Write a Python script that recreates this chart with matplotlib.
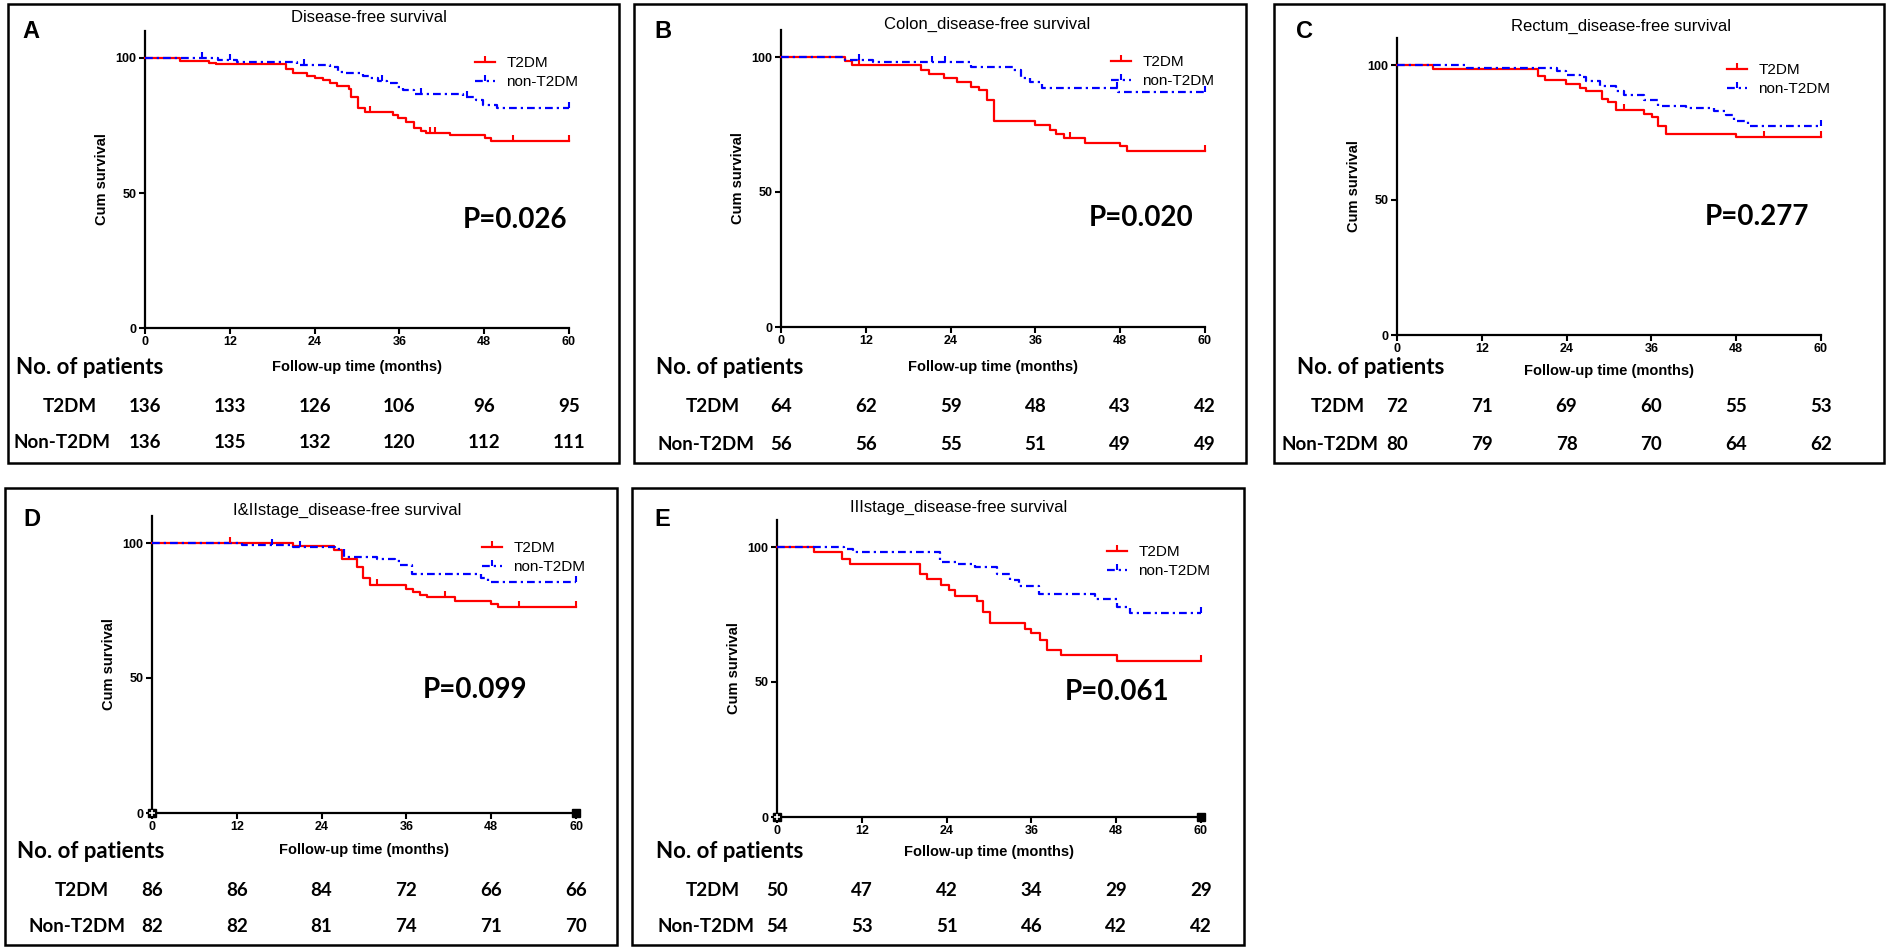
import matplotlib
matplotlib.use("Agg")
import matplotlib.pyplot as plt
import numpy as np
from matplotlib.lines import Line2D
from matplotlib.patches import Rectangle
from matplotlib.path import Path
from matplotlib.transforms import blended_transform_factory

ARIAL = ["Liberation Sans", "DejaVu Sans"]
CALIBRI = ["Lato", "DejaVu Sans"]
plt.rcParams["font.family"] = ARIAL

# ---------------- data ----------------
months = [0, 12, 24, 36, 48, 60]
group_labels = ["T2DM", "non-T2DM"]
table_labels = ["T2DM", "Non-T2DM"]

titles = ["Disease-free survival", "Colon_disease-free survival", "Rectum_disease-free survival",
          "I&IIstage_disease-free survival", "IIIstage_disease-free survival"]
letters = ["A", "B", "C", "D", "E"]
p_values = ["P=0.026", "P=0.020", "P=0.277", "P=0.099", "P=0.061"]

# Panel A
A_t2dm_t = [0, 5.0, 9.1, 10.0, 19.9, 21.0, 22.9, 24.0, 25.2, 26.2, 27.1, 28.9, 29.1, 30.1, 31.1, 35.1, 35.8, 37.0, 38.1, 39.0, 39.8, 43.1, 48.1, 49.0]
A_t2dm_s = [100, 99.0, 98.3, 97.8, 95.8, 94.3, 93.3, 92.5, 91.9, 90.9, 89.6, 88.5, 85.7, 81.4, 80.1, 78.9, 77.7, 76.4, 74.0, 73.1, 72.4, 71.5, 70.3, 69.4]
A_t2dm_c = [31.8, 40.4, 41.1, 52.1, 60]
A_non_t = [0, 10.4, 13.0, 21.5, 26.2, 27.3, 28.5, 30.9, 31.8, 33.0, 34.2, 35.6, 36.5, 38.0, 45.0, 46.9, 47.9, 49.8]
A_non_s = [100, 99.4, 98.6, 97.4, 96.8, 94.9, 94.3, 93.3, 92.5, 91.5, 90.6, 89.4, 88.1, 86.5, 85.7, 84.4, 82.6, 81.4]
A_non_c = [8.0, 12.0, 22.5, 33.5, 39.0, 45.5, 60]
A_n_t2dm = [136, 133, 126, 106, 96, 95]
A_n_non = [136, 135, 132, 120, 112, 111]

# Panel B
B_t2dm_t = [0, 9.0, 10.0, 19.8, 21.0, 23.0, 24.9, 26.9, 28.0, 29.1, 30.1, 35.9, 38.0, 38.9, 40.0, 43.0, 48.0, 49.0]
B_t2dm_s = [100, 98.6, 96.9, 95.3, 93.8, 92.2, 90.6, 88.9, 87.7, 84.2, 76.4, 74.7, 73.1, 71.6, 70.0, 68.1, 66.9, 65.1]
B_t2dm_c = [11.0, 40.9, 60]
B_non_t = [0, 9.0, 13.0, 26.9, 32.9, 34.0, 35.2, 36.9, 47.7]
B_non_s = [100, 99.0, 98.3, 96.3, 95.3, 92.2, 90.6, 88.6, 86.9]
B_non_c = [11.0, 21.3, 23.2, 47.5, 60]
B_n_t2dm = [64, 62, 59, 48, 43, 42]
B_n_non = [56, 56, 55, 51, 49, 49]

# Panel C
C_t2dm_t = [0, 5.1, 19.9, 21.0, 23.9, 25.9, 26.8, 29.0, 29.8, 31.0, 34.9, 36.1, 36.9, 38.0, 48.0]
C_t2dm_s = [100, 98.5, 95.8, 94.6, 93.1, 91.5, 90.2, 87.5, 86.2, 83.5, 82.0, 80.6, 77.5, 74.6, 73.3]
C_t2dm_c = [32.1, 52.0, 60]
C_non_t = [0, 9.9, 22.7, 23.9, 25.9, 26.7, 28.7, 31.0, 32.1, 34.9, 36.9, 40.9, 44.9, 46.6, 47.7, 49.7]
C_non_s = [100, 98.8, 97.7, 96.4, 95.6, 94.0, 92.3, 90.2, 89.0, 87.2, 84.9, 84.1, 82.8, 81.6, 79.1, 77.5]
C_non_c = [60]
C_n_t2dm = [72, 71, 69, 60, 55, 53]
C_n_non = [80, 79, 78, 70, 64, 62]

# Panel D
D_t2dm_t = [0, 20.0, 25.8, 26.9, 29.0, 29.8, 30.9, 36.0, 36.9, 37.9, 38.9, 42.9, 48.0, 49.0]
D_t2dm_s = [100, 98.8, 97.5, 94.2, 91.0, 86.9, 84.5, 83.0, 82.0, 80.7, 79.9, 78.6, 77.5, 76.3]
D_t2dm_c = [11.1, 31.8, 41.5, 51.9, 60]
D_non_t = [0, 12.7, 20.0, 25.9, 27.1, 31.8, 34.4, 35.1, 36.8, 46.5, 47.6]
D_non_s = [100, 99.2, 98.6, 97.9, 94.8, 94.2, 93.5, 91.7, 88.6, 87.1, 85.4]
D_non_c = [17.0, 21.0, 60]
D_n_t2dm = [86, 86, 84, 72, 66, 66]
D_n_non = [82, 82, 81, 74, 71, 70]

# Panel E
E_t2dm_t = [0, 5.2, 9.2, 10.3, 20.2, 21.2, 23.2, 24.3, 25.2, 28.3, 29.2, 30.2, 35.1, 36.0, 37.2, 38.2, 40.2, 48.1]
E_t2dm_s = [100, 98.1, 95.7, 93.8, 89.9, 88.0, 85.8, 84.0, 81.7, 80.0, 75.9, 71.9, 69.8, 68.0, 65.7, 61.7, 59.9, 57.7]
E_t2dm_c = [60]
E_non_t = [0, 9.5, 10.8, 23.1, 25.5, 28.0, 31.1, 33.0, 34.2, 37.1, 45.0, 48.1, 50.0]
E_non_s = [100, 99.1, 98.1, 94.4, 93.6, 92.6, 90.1, 87.6, 85.4, 82.7, 80.9, 77.8, 75.6]
E_non_c = [60]
E_n_t2dm = [50, 47, 42, 34, 29, 29]
E_n_non = [54, 53, 51, 46, 42, 42]

curves = [
    (A_t2dm_t, A_t2dm_s, A_t2dm_c, A_non_t, A_non_s, A_non_c, A_n_t2dm, A_n_non),
    (B_t2dm_t, B_t2dm_s, B_t2dm_c, B_non_t, B_non_s, B_non_c, B_n_t2dm, B_n_non),
    (C_t2dm_t, C_t2dm_s, C_t2dm_c, C_non_t, C_non_s, C_non_c, C_n_t2dm, C_n_non),
    (D_t2dm_t, D_t2dm_s, D_t2dm_c, D_non_t, D_non_s, D_non_c, D_n_t2dm, D_n_non),
    (E_t2dm_t, E_t2dm_s, E_t2dm_c, E_non_t, E_non_s, E_non_c, E_n_t2dm, E_n_non),
]

# ---------------- layout (pixels) ----------------
W, H = 1890, 951
AX_W, PX_PER_UNIT, Y_TOP = 424, 2.7, 110
layout = [
    dict(box=(8, 4, 619, 463), origin=(145, 328), title=(369, 18), letter=(31, 32),
         rows=(368, 407, 443), xlab=367, no_x=16, t2_cx=70, non_cx=62, p=(59.7, 40.0), marks=False),
    dict(box=(634, 4, 1246, 463), origin=(781, 327), title=(987, 24), letter=(663, 32),
         rows=(368, 407, 444), xlab=367, no_x=656, t2_cx=713, non_cx=706, p=(58.4, 40.5), marks=False),
    dict(box=(1274, 4, 1884, 463), origin=(1397, 335), title=(1621, 26), letter=(1305, 32),
         rows=(367, 407, 444), xlab=371, no_x=1297, t2_cx=1338, non_cx=1330, p=(58.4, 43.8), marks=False),
    dict(box=(5, 488, 617, 945), origin=(152, 813), title=(347, 510), letter=(32, 520),
         rows=(852, 890, 927), xlab=850, no_x=17, t2_cx=82, non_cx=77, p=(53.1, 45.6), marks=True),
    dict(box=(632, 488, 1244, 945), origin=(777, 817), title=(959, 507), letter=(662, 520),
         rows=(851, 890, 927), xlab=852, no_x=656, t2_cx=713, non_cx=706, p=(55.5, 46.2), marks=True),
]

RED, BLUE = "#ff0000", "#0000ff"
DASHDOT = (0, (3.5, 1.8, 1.0, 1.8))
tick_marker = Path([(0, 0), (0, 1)], [Path.MOVETO, Path.LINETO])

fig = plt.figure(figsize=(W / 100, H / 100), dpi=100)


def fx(x):
    return x / W


def fy(y):
    return 1 - y / H


def step_value(t, s, c):
    idx = np.searchsorted(np.asarray(t), c, side="right") - 1
    return np.asarray(s)[idx]


for i, L in enumerate(layout):
    l, t, r, b = L["box"]
    fig.patches.append(Rectangle((fx(l), fy(b)), fx(r - l), (b - t) / H, transform=fig.transFigure,
                                 fill=False, edgecolor="black", linewidth=1.8, zorder=0))
    x0, y0 = L["origin"]
    ax_h = Y_TOP * PX_PER_UNIT
    ax = fig.add_axes([fx(x0), fy(y0), AX_W / W, ax_h / H])
    ax.set_xlim(0, 60)
    ax.set_ylim(0, Y_TOP)
    for sp in ("top", "right"):
        ax.spines[sp].set_visible(False)
    for sp in ("left", "bottom"):
        ax.spines[sp].set_linewidth(1.6)
    ax.set_xticks(months)
    ax.set_yticks([0, 50, 100])
    ax.tick_params(direction="out", length=4, width=1.5, pad=2)
    for lab in ax.get_xticklabels() + ax.get_yticklabels():
        lab.set_fontweight("bold")
        lab.set_fontsize(9)
        lab.set_family(ARIAL)
    ax.set_ylabel("Cum survival", fontsize=10.5, fontweight="bold", family=ARIAL)
    ax.yaxis.set_label_coords(-0.085, 0.5)

    t1, s1, c1, t2, s2, c2, n1, n2 = curves[i]
    ax.step(list(t1) + [60], list(s1) + [s1[-1]], where="post", color=RED, lw=1.6, clip_on=False, zorder=3)
    ax.step(list(t2) + [60], list(s2) + [s2[-1]], where="post", color=BLUE, lw=1.6, ls=DASHDOT,
            clip_on=False, zorder=3)
    ax.plot(c1, step_value(t1, s1, c1), ls="none", marker=tick_marker, ms=8, mew=1.5, color=RED,
            clip_on=False, zorder=4)
    ax.plot(c2, step_value(t2, s2, c2), ls="none", marker=tick_marker, ms=8, mew=1.5, color=BLUE,
            clip_on=False, zorder=4)

    handles = [Line2D([], [], color=RED, lw=1.6, marker=tick_marker, ms=8, mew=1.5),
               Line2D([], [], color=BLUE, lw=1.6, ls=DASHDOT, marker=tick_marker, ms=8, mew=1.5)]
    ax.legend(handles, group_labels, loc="center left", bbox_to_anchor=(46.7 / 60, 94.6 / Y_TOP),
              frameon=False, prop={"family": ARIAL, "size": 11}, handlelength=1.3, handletextpad=0.75,
              labelspacing=0.3, borderpad=0, borderaxespad=0, numpoints=1)

    px, py = L["p"]
    ax.text(px, py, p_values[i], ha="right", va="center", family=CALIBRI, fontweight="bold", fontsize=20)

    if L["marks"]:
        ax.plot([0], [0], transform=ax.transAxes, marker="s", ms=5.5, color="black", clip_on=False, zorder=5)
        ax.plot([0], [0], transform=ax.transAxes, marker="+", ms=4.5, mew=1.2, color="white", clip_on=False, zorder=6)
        ax.plot([1], [0], transform=ax.transAxes, marker="s", ms=5.5, color="black", clip_on=False, zorder=5)

    # titles and labels
    fig.text(fx(L["title"][0]), fy(L["title"][1]), titles[i], ha="center", va="center", fontsize=12, family=ARIAL)
    fig.text(fx(L["letter"][0]), fy(L["letter"][1]), letters[i], ha="center", va="center", fontsize=17,
             fontweight="bold", family=ARIAL)
    fig.text(fx(x0 + AX_W / 2), fy(L["xlab"]), "Follow-up time (months)", ha="center", va="center",
             fontsize=10.5, fontweight="bold", family=ARIAL)

    # number at risk table
    r0, r1, r2 = L["rows"]
    fig.text(fx(L["no_x"]), fy(r0), "No. of patients", ha="left", va="center", fontsize=16,
             fontweight="bold", family=CALIBRI)
    fig.text(fx(L["t2_cx"]), fy(r1), table_labels[0], ha="center", va="center", fontsize=13.5,
             fontweight="bold", family=CALIBRI)
    fig.text(fx(L["non_cx"]), fy(r2), table_labels[1], ha="center", va="center", fontsize=13.5,
             fontweight="bold", family=CALIBRI)
    trans = blended_transform_factory(ax.transData, fig.transFigure)
    for m, a, bb in zip(months, n1, n2):
        ax.text(m, fy(r1), str(a), transform=trans, ha="center", va="center", fontsize=13.5,
                fontweight="bold", family=CALIBRI, clip_on=False)
        ax.text(m, fy(r2), str(bb), transform=trans, ha="center", va="center", fontsize=13.5,
                fontweight="bold", family=CALIBRI, clip_on=False)

fig.savefig("out.png", dpi=100)
